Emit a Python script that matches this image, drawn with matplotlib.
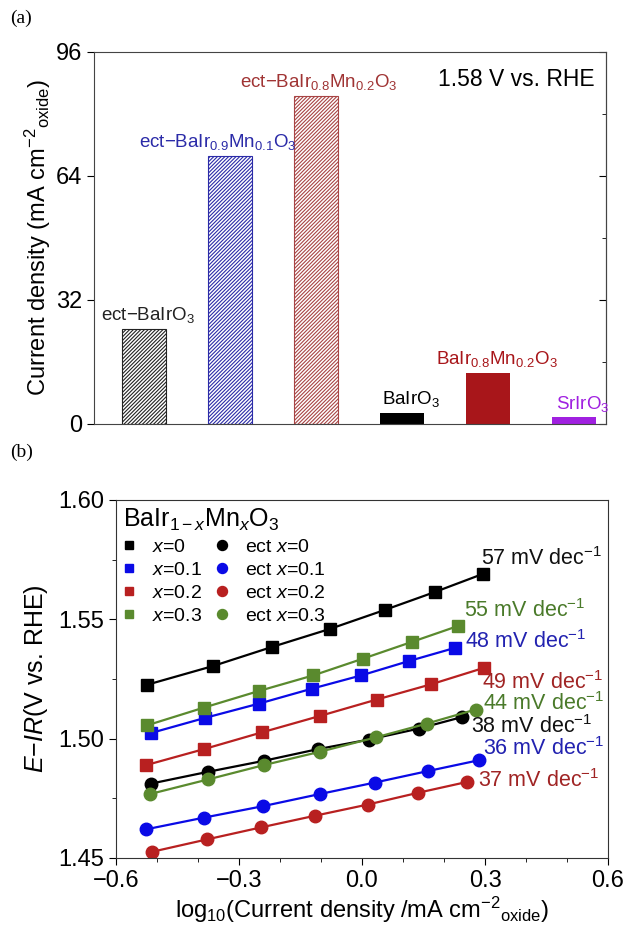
import matplotlib
matplotlib.use("Agg")
import matplotlib.pyplot as plt
from matplotlib.ticker import MultipleLocator
import numpy as np

plt.rcParams['font.family'] = ['Liberation Sans', 'DejaVu Sans']
plt.rcParams['mathtext.fontset'] = 'custom'
plt.rcParams['mathtext.rm'] = 'Liberation Sans'
plt.rcParams['mathtext.it'] = 'Liberation Sans:italic'
plt.rcParams['mathtext.bf'] = 'Liberation Sans:bold'
plt.rcParams['hatch.linewidth'] = 0.8

# -- (a) current density at 1.58 V vs. RHE --
bar_names = ["ect−BaIrO$_3$", "ect−BaIr$_{0.9}$Mn$_{0.1}$O$_3$", "ect−BaIr$_{0.8}$Mn$_{0.2}$O$_3$",
             "BaIrO$_3$", "BaIr$_{0.8}$Mn$_{0.2}$O$_3$", "SrIrO$_3$"]
bar_values = [24.5, 69.1, 84.7, 2.8, 13.1, 1.7]
bar_colors = ["#222222", "#2b2ba8", "#a84444", "#000000", "#a8161a", "#a020e0"]
bar_hatched = [True, True, True, False, False, False]
label_colors = ["#222222", "#2b2ba8", "#a03434", "#000000", "#a8161a", "#a020e0"]

# -- (b) Tafel data --
tafel_x = {
    "sq0": [-0.524, -0.364, -0.220, -0.078, 0.055, 0.177, 0.296],
    "sq1": [-0.514, -0.383, -0.251, -0.121, -0.002, 0.114, 0.228],
    "sq2": [-0.527, -0.386, -0.245, -0.103, 0.036, 0.169, 0.298],
    "sq3": [-0.524, -0.386, -0.251, -0.119, 0.002, 0.121, 0.234],
    "ci0": [-0.514, -0.376, -0.240, -0.108, 0.016, 0.138, 0.245],
    "ci1": [-0.527, -0.386, -0.242, -0.103, 0.031, 0.160, 0.286],
    "ci2": [-0.512, -0.378, -0.247, -0.115, 0.014, 0.136, 0.257],
    "ci3": [-0.517, -0.376, -0.240, -0.103, 0.033, 0.158, 0.277],
}
tafel_y = {
    "sq0": [1.5226, 1.5304, 1.5384, 1.5460, 1.5539, 1.5614, 1.5691],
    "sq1": [1.5024, 1.5087, 1.5147, 1.5210, 1.5265, 1.5325, 1.5381],
    "sq2": [1.4889, 1.4956, 1.5026, 1.5095, 1.5164, 1.5228, 1.5297],
    "sq3": [1.5056, 1.5130, 1.5200, 1.5265, 1.5335, 1.5405, 1.5472],
    "ci0": [1.4812, 1.4861, 1.4907, 1.4956, 1.4996, 1.5042, 1.5091],
    "ci1": [1.4620, 1.4669, 1.4717, 1.4768, 1.4816, 1.4864, 1.4910],
    "ci2": [1.4526, 1.4578, 1.4628, 1.4677, 1.4724, 1.4773, 1.4819],
    "ci3": [1.4768, 1.4829, 1.4889, 1.4945, 1.5005, 1.5063, 1.5122],
}
series_labels = {"sq0": "$x$=0", "sq1": "$x$=0.1", "sq2": "$x$=0.2", "sq3": "$x$=0.3",
                 "ci0": "ect $x$=0", "ci1": "ect $x$=0.1", "ci2": "ect $x$=0.2", "ci3": "ect $x$=0.3"}
series_colors = {"0": "#000000", "1": "#0a0ae6", "2": "#b82020", "3": "#5a8a2e"}

slope_text = ["57", "55", "48", "49", "44", "38", "36", "37"]
slope_x = [0.291, 0.249, 0.252, 0.293, 0.296, 0.265, 0.296, 0.284]
slope_y = [1.5753, 1.5537, 1.5409, 1.5237, 1.5147, 1.5049, 1.4959, 1.4823]
slope_colors = ["#111111", "#4a7a2a", "#2222b0", "#a02424", "#4a7a2a", "#111111", "#2222b0", "#a02424"]

fig = plt.figure(figsize=(6.27, 9.36), dpi=100)

# ---------------- panel (a) ----------------
ax1 = fig.add_axes([94 / 627, 1 - 424 / 936, 512 / 627, 372 / 936])
pos = np.arange(len(bar_values))
for i in range(len(bar_values)):
    if bar_hatched[i]:
        ax1.bar(pos[i], bar_values[i], width=0.51, facecolor="white",
                edgecolor=bar_colors[i], hatch="/////////", linewidth=0.8)
    else:
        ax1.bar(pos[i], bar_values[i], width=0.51, color=bar_colors[i], linewidth=0)
offs = [0.05, -0.14, 0.03, 0.1, 0.1, 0.1]
for i in range(len(bar_values)):
    ax1.text(pos[i] + offs[i], bar_values[i] + 1.0, bar_names[i], ha="center", va="bottom",
             fontsize=13.5, color=label_colors[i])
ax1.text(5.24, 88.8, "1.58 V vs. RHE", ha="right", va="center", fontsize=16.5)
ax1.set_xlim(-0.58, 5.37)
ax1.set_ylim(0, 96)
ax1.set_xticks([])
ax1.yaxis.set_major_locator(MultipleLocator(32))
ax1.yaxis.set_minor_locator(MultipleLocator(16))
ax1.tick_params(axis="y", which="major", direction="out", length=5, labelsize=17)
ax1.tick_params(axis="y", which="minor", direction="out", length=0)
sec = ax1.secondary_yaxis("right")
sec.yaxis.set_major_locator(MultipleLocator(32))
sec.yaxis.set_minor_locator(MultipleLocator(16))
sec.tick_params(which="major", direction="in", length=5, labelright=False)
sec.tick_params(which="minor", direction="in", length=3)
ax1.set_ylabel("Current density (mA cm$^{-2}$$_{\\rm oxide}$)", fontsize=17, labelpad=2)
for sp in list(ax1.spines.values()) + list(sec.spines.values()):
    sp.set_color("#444444")
fig.text(10 / 627, 1 - 18 / 936, "(a)", family="Liberation Serif", fontsize=14, va="center")

# ---------------- panel (b) ----------------
ax2 = fig.add_axes([116 / 627, 1 - 858 / 936, 492 / 627, 358 / 936])
for key in ["sq0", "sq1", "sq2", "sq3", "ci0", "ci1", "ci2", "ci3"]:
    mk = "s" if key.startswith("sq") else "o"
    ms = 8 if mk == "s" else 9
    ax2.plot(tafel_x[key], tafel_y[key], color=series_colors[key[-1]], marker=mk,
             markersize=ms, linewidth=1.6, label=series_labels[key])
for t, x, y, c in zip(slope_text, slope_x, slope_y, slope_colors):
    ax2.text(x, y, t + " mV dec$^{-1}$", ha="left", va="center", fontsize=15.5, color=c, clip_on=False)

handles, labels = ax2.get_legend_handles_labels()
leg = ax2.legend(handles, labels, loc="upper left", ncol=2, frameon=False, fontsize=14,
                 title="BaIr$_{1-x}$Mn$_x$O$_3$", title_fontsize=18, alignment="left",
                 handlelength=0.6, handletextpad=0.9, columnspacing=0.7, labelspacing=0.28,
                 borderaxespad=0.15, borderpad=0.2, markerscale=0.8)
for lh in leg.legend_handles:
    lh.set_linestyle("none")

ax2.set_xlim(-0.6, 0.6)
ax2.set_ylim(1.45, 1.60)
ax2.xaxis.set_major_locator(MultipleLocator(0.3))
ax2.xaxis.set_minor_locator(MultipleLocator(0.1))
ax2.yaxis.set_major_locator(MultipleLocator(0.05))
ax2.yaxis.set_minor_locator(MultipleLocator(0.025))
ax2.xaxis.set_major_formatter(matplotlib.ticker.FuncFormatter(lambda v, p: f"{v:.1f}".replace("-", "−")))
ax2.yaxis.set_major_formatter(matplotlib.ticker.FuncFormatter(lambda v, p: f"{v:.2f}"))
ax2.tick_params(which="major", direction="out", length=5, labelsize=17)
ax2.tick_params(which="minor", direction="out", length=3)
ax2.set_xlabel("log$_{10}$(Current density /mA cm$^{-2}$$_{\\rm oxide}$)", fontsize=17, labelpad=2)
ax2.set_ylabel("$E$−$IR$(V vs. RHE)", fontsize=18, labelpad=6)
for sp in ax2.spines.values():
    sp.set_color("#333333")
fig.text(10 / 627, 1 - 452 / 936, "(b)", family="Liberation Serif", fontsize=14, va="center")

fig.savefig("out.png", dpi=100)
